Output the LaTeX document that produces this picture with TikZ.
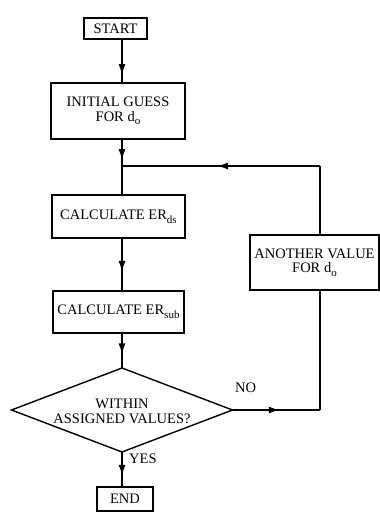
\documentclass[tikz,border=0pt]{standalone}
\usepackage{fontspec}
\setmainfont{Liberation Serif}
\usetikzlibrary{shapes.geometric,arrows.meta,decorations.markings}
\newcommand\sbs[1]{\raisebox{-0.55ex}{\fontsize{11}{11}\selectfont #1}}
\tikzset{
  box/.style={draw, line width=1.4pt, inner sep=0pt, outer sep=0pt, align=center},
  dia/.style={draw, line width=1.4pt, shape=diamond, aspect=2.63, inner sep=0pt, outer sep=0pt,
              minimum width=221pt, minimum height=84pt, align=center},
  conn/.style={line width=1.4pt},
  midarrow/.style={postaction={decorate}, decoration={markings,
      mark=at position #1 with {\arrow{Latex[length=11pt,width=7pt]}}}},
  lbl/.style={inner sep=0pt}
}
\begin{document}
\begin{tikzpicture}[x=1pt, y=-1pt, font=\fontsize{14.5}{14.5}\selectfont]
\useasboundingbox (0,0) rectangle (380,512);
\fill[white] (0,0) rectangle (380,512);
\coordinate (col) at (122,0);
\coordinate (lx) at (320,0);
\coordinate (jn) at (122,166);

\node[box, minimum width=63pt, minimum height=21pt] (start) at (115.5,28.5) {START};
\node[box, minimum width=134pt, minimum height=56pt] (init) at (118,111) {INITIAL GUESS\\FOR d\sbs{o}};
\node[box, minimum width=133pt, minimum height=43pt] (erds) at (118.5,216.5) {CALCULATE ER\sbs{ds}};
\node[box, minimum width=131pt, minimum height=42pt] (ersub) at (118.5,312) {CALCULATE ER\sbs{sub}};
\node[dia] (dec) at (122,410) {\\[-2pt]WITHIN\\ASSIGNED VALUES?};
\node[box, minimum width=56pt, minimum height=24pt] (endn) at (125,499) {END};
\node[box, minimum width=129pt, minimum height=55pt] (another) at (314.5,262.5) {ANOTHER VALUE\\FOR d\sbs{o}};

\coordinate (rt) at (dec.east -| lx);
\coordinate (rb) at (jn -| lx);

\draw[conn, midarrow=0.82] (start.south -| col) -- (init.north -| col);
\draw[conn, midarrow=0.78] (init.south -| col) -- (jn);
\draw[conn] (jn) -- (erds.north -| col);
\draw[conn, midarrow=0.64] (erds.south -| col) -- (ersub.north -| col);
\draw[conn, midarrow=0.61] (ersub.south -| col) -- (dec.north);
\draw[conn, midarrow=0.68] (dec.south) -- (endn.north -| dec.south);
\draw[conn, midarrow=0.54] (dec.east) -- (rt);
\draw[conn] (rt) -- (another.south -| lx);
\draw[conn] (another.north -| lx) -- (rb);
\draw[conn, midarrow=0.52] (rb) -- (jn);

\node[lbl, anchor=south west] (no) at (235,392.5) {NO};
\node[lbl, anchor=south west] (yes) at (129,463.5) {YES};
\end{tikzpicture}
\end{document}
